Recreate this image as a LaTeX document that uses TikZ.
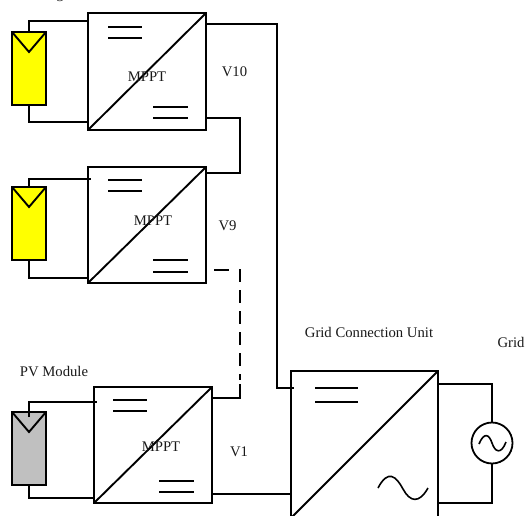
\documentclass[tikz,border=0pt]{standalone}
\usepackage{fontspec}
\setmainfont{Liberation Serif}
\definecolor{pvyellow}{RGB}{255,255,0}
\definecolor{pvgrey}{RGB}{192,192,192}
\tikzset{
  x=1pt,y=-1pt,
  wire/.style={draw=black,line width=1.9pt,line join=miter},
  bar/.style={draw=black,line width=1.7pt},
  unit/.style={draw=black,line width=2pt,fill=white,rectangle,inner sep=0pt,outer sep=0pt},
  panelbox/.style={draw=black,line width=2pt,rectangle,inner sep=0pt,outer sep=0pt,minimum width=34pt,minimum height=73pt},
  lab/.style={font=\fontsize{14.7}{16}\selectfont,inner sep=0pt,text=black!90},
}
\begin{document}
\begin{tikzpicture}
\useasboundingbox (0,0) rectangle (527,516);
\begin{scope}
\clip (0,0) rectangle (527,516);
\node[lab,anchor=base] (top) at (60,-1) {g};
% converter boxes
\node[unit,minimum width=118pt,minimum height=117pt] (b1) at (147,71.5) {};
\node[unit,minimum width=118pt,minimum height=116pt] (b2) at (147,225) {};
\node[unit,minimum width=118pt,minimum height=116pt] (b3) at (153,445) {};
\node[unit,minimum width=147pt,minimum height=147pt] (g) at (364.5,444.5) {};
% diagonals
\draw[wire] (b1.north east) -- (b1.south west);
\draw[wire] (b2.north east) -- (b2.south west);
\draw[wire] (b3.north east) -- (b3.south west);
\draw[wire] (g.north east) -- (g.south west);
% DC bars
\foreach \xa/\xb/\ya/\yb in {108/142/27/38,153/188/107/118,108/142/180/191,153/188/260/272,113/147/400/411,159/194/481/492,315/358/388/402}
  \draw[bar] (\xa,\ya) -- (\xb,\ya) (\xa,\yb) -- (\xb,\yb);
% panels
\node[panelbox,fill=pvyellow] (p1) at (29,68.5) {};
\node[panelbox,fill=pvyellow] (p2) at (29,223.5) {};
\node[panelbox,fill=pvgrey] (p3) at (29,448.5) {};
\coordinate (a1) at (29,52);
\coordinate (a2) at (29,207);
\coordinate (a3) at (29,432);
\draw[wire] (p1.north west) -- (a1) -- (p1.north east);
\draw[wire] (p2.north west) -- (a2) -- (p2.north east);
\draw[wire] (p3.north west) -- (a3) -- (p3.north east);
% panel leads
\draw[wire] (p1.north) -- (29,21) -- (b1.west |- 0,21);
\draw[wire] (p1.south) -- (29,122) -- (b1.west |- 0,122);
\draw[wire] (p2.north) -- (29,179) -- (91,179);
\draw[wire] (p2.south) -- (29,278) -- (b2.west |- 0,278);
\draw[wire] (29,417) -- (29,402) -- (97,402);
\draw[wire] (p3.south) -- (29,498) -- (b3.west |- 0,498);
% string wiring
\draw[wire] (b1.east |- 0,24) -- (277,24) -- (277,388) -- (294,388);
\draw[wire] (b1.east |- 0,118) -- (240,118) -- (240,173) -- (b2.east |- 0,173);
\draw[wire] (b3.east |- 0,494) -- (g.west |- 0,494);
\draw[wire] (214,270) -- (229,270);
\draw[wire,dash pattern=on 13pt off 8pt] (240,269) -- (240,380);
\draw[wire] (240,384) -- (240,398) -- (b3.east |- 0,398);
% grid source
\node[draw=black,line width=1.8pt,circle,fill=white,minimum size=41pt,inner sep=0pt,outer sep=0pt] (ac) at (492,443) {};
\draw[wire] (g.east |- 0,384) -- (492,384) -- (ac.north);
\draw[wire] (ac.south) -- (492,503) -- (g.east |- 0,503);
\draw[line width=1.6pt] (479,444) .. controls (484,432) and (489,434) .. (492,443) .. controls (495,452) and (501,455) .. (506,442);
\draw[line width=1.6pt] (378,488) .. controls (388,469) and (396,476) .. (403,489) .. controls (410,502) and (419,504) .. (428,488);
\end{scope}
% labels
\node[lab] (t1) at (147,77) {MPPT};
\node[lab] (t2) at (153,221) {MPPT};
\node[lab] (t3) at (161,447) {MPPT};
\node[lab] (v10) at (234.5,72) {V10};
\node[lab] (v9) at (227.5,226) {V9};
\node[lab] (v1) at (239,452) {V1};
\node[lab] (pv) at (54,372) {PV Module};
\node[lab] (gcu) at (369,332) {Grid Connection Unit};
\node[lab] (gr) at (511,342) {Grid};
\end{tikzpicture}
\end{document}
